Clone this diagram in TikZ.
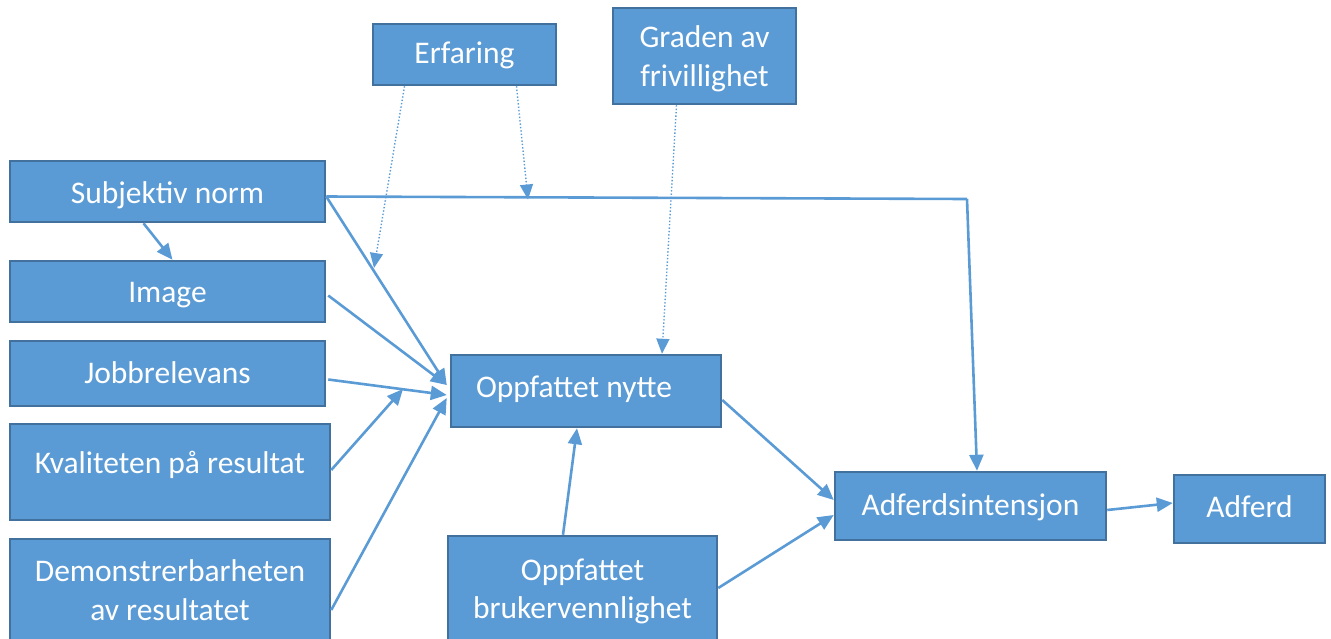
\documentclass[tikz,border=0pt]{standalone}
\usepackage{fontspec}
\setmainfont{Carlito}
\usetikzlibrary{arrows.meta}
\definecolor{boxfill}{HTML}{5B9BD5}
\definecolor{boxline}{HTML}{41719C}
\definecolor{wire}{HTML}{5B9BD5}
% box text, moved up or down by the first argument without changing its size
\newcommand\boxtext[2]{\raisebox{#1}[\height][\depth]{\begin{tabular}{@{}c@{}}#2\end{tabular}}}
\begin{document}
\begin{tikzpicture}[x=1pt,y=-1pt,
  box/.style={draw=boxline, line width=2.5pt, fill=boxfill, text=white,
    font=\fontsize{31.5}{38.5}\selectfont, align=center, inner sep=0pt},
  conn/.style={draw=wire, line width=2.6pt, -{Triangle[length=16pt,width=14pt]}},
  link/.style={draw=wire, line width=2.6pt},
  hint/.style={draw=wire, line width=1.4pt, dotted, -{Triangle[length=15pt,width=13pt]}}]
\useasboundingbox (0,0) rectangle (1331,638);
\begin{scope}
\clip (0,0) rectangle (1331,638);
% boxes
\node[box, minimum width=183pt, minimum height=61pt] (erf) at (464.5,54.5) {\boxtext{-1pt}{Erfaring}};
\node[box, minimum width=183pt, minimum height=96pt] (grad) at (704.5,56) {\boxtext{-3.5pt}{Graden av\\frivillighet}};
\node[box, minimum width=315pt, minimum height=61pt] (subj) at (167.5,191.5) {\boxtext{-4pt}{Subjektiv norm}};
\node[box, minimum width=315pt, minimum height=61pt] (img) at (167.5,291.5) {\boxtext{-3pt}{Image}};
\node[box, minimum width=315pt, minimum height=65pt] (job) at (167.5,373.5) {\boxtext{-2pt}{Jobbrelevans}};
\node[box, minimum width=320pt, minimum height=96pt] (kval) at (170,472) {\boxtext{6pt}{Kvaliteten på resultat}};
\node[box, minimum width=320pt, minimum height=104pt] (dem) at (170,591) {\boxtext{-2.5pt}{Demonstrerbarheten\\av resultatet}};
\node[box, minimum width=270pt, minimum height=72pt] (nytte) at (586,391) {\boxtext{1pt}{Oppfattet nytte\rule{24pt}{0pt}}};
\node[box, minimum width=269pt, minimum height=106pt] (bruk) at (582.5,589) {\boxtext{-3pt}{Oppfattet\\brukervennlighet}};
\node[box, minimum width=271pt, minimum height=68pt] (intens) at (970.5,506) {\boxtext{-2pt}{Adferdsintensjon}};
\node[box, minimum width=151pt, minimum height=68pt] (adferd) at (1249.5,509) {\boxtext{-1pt}{Adferd}};

% junction points on the lines
\coordinate (bend) at (967,199);
\coordinate (onsubj) at (374,268);
\coordinate (onnorm) at (528,199.5);
\coordinate (midair) at (403,389);

% solid connectors
\draw[conn] ([xshift=-24pt]subj.south) -- ([xshift=5pt]img.north);
\draw[link] ([yshift=-5pt]subj.east) -- (bend);
\draw[conn] (bend) -- ([xshift=6.5pt]intens.north);
\draw[conn] ([yshift=-5pt]subj.east) -- ([xshift=-3pt,yshift=6pt]nytte.west);
\draw[conn] ([xshift=2pt,yshift=-4pt]img.east) -- ([xshift=-3pt,yshift=6pt]nytte.west);
\draw[conn] ([xshift=2pt,yshift=-6pt]job.east) -- ([xshift=-3pt,yshift=-4pt]nytte.west);
\draw[conn] ([yshift=2pt]kval.east) -- (midair);
\draw[conn] ([yshift=-19pt]dem.east) -- ([xshift=-3pt,yshift=-7pt]nytte.west);
\draw[conn] ([xshift=-19.5pt]bruk.north) -- ([xshift=-9pt]nytte.south);
\draw[conn] ([yshift=-9pt]nytte.east) -- ([yshift=6pt]intens.west);
\draw[conn] ([yshift=1pt]bruk.east) -- ([yshift=-9pt]intens.west);
\draw[conn] ([yshift=-4pt]intens.east) -- ([yshift=6pt]adferd.west);

% dotted moderator arrows
\draw[hint] ([xshift=-60pt]erf.south) -- (onsubj);
\draw[hint] ([xshift=52pt]erf.south) -- (onnorm);
\draw[hint] ([xshift=-28pt]grad.south) -- ([xshift=76pt]nytte.north);
\end{scope}
\end{tikzpicture}
\end{document}
